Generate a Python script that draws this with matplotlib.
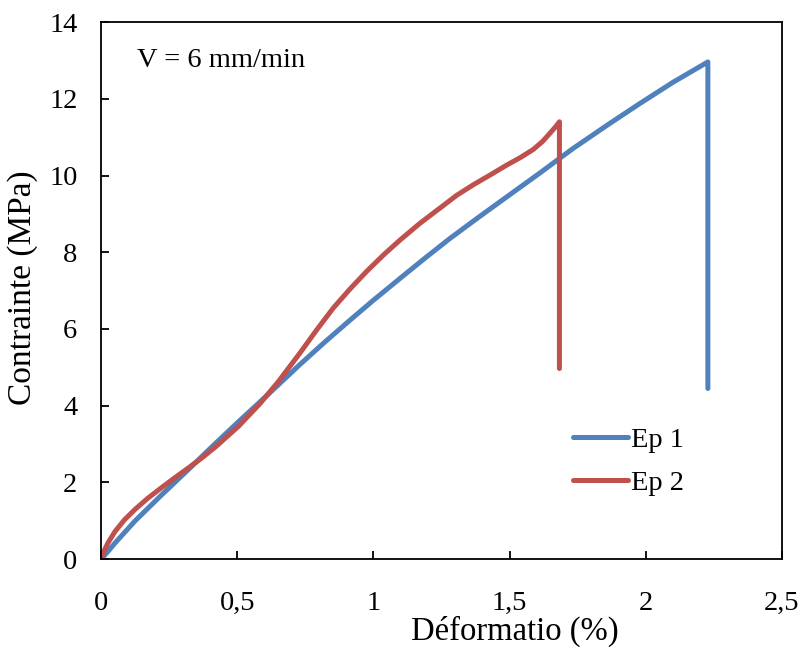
import numpy as np
import matplotlib
matplotlib.use("Agg")
import matplotlib.pyplot as plt

# Ep 1 (blue)
ep1_def = [0, 0.025, 0.051, 0.125, 0.223, 0.321, 0.41, 0.504, 0.614, 0.731, 0.82,
           0.914, 1.0, 1.098, 1.19, 1.281, 1.38, 1.489, 1.61, 1.734, 1.86, 1.979,
           2.10, 2.228, 2.228]
ep1_cont = [0, 0.2, 0.42, 1.0, 1.68, 2.34, 2.95, 3.58, 4.30, 5.08, 5.65,
            6.23, 6.75, 7.32, 7.85, 8.36, 8.88, 9.44, 10.06, 10.71, 11.32, 11.88,
            12.43, 12.96, 4.45]

# Ep 2 (red)
ep2_def = [0, 0.01, 0.025, 0.051, 0.085, 0.125, 0.17, 0.223, 0.27, 0.321, 0.37,
           0.419, 0.504, 0.584, 0.65, 0.731, 0.79, 0.853, 0.915, 0.975, 1.04,
           1.098, 1.17, 1.244, 1.305, 1.367, 1.43, 1.489, 1.54, 1.587, 1.62,
           1.648, 1.67, 1.683, 1.683]
ep2_cont = [0, 0.2, 0.42, 0.72, 1.02, 1.30, 1.58, 1.87, 2.12, 2.38, 2.64,
            2.92, 3.46, 4.06, 4.62, 5.38, 5.96, 6.55, 7.05, 7.50, 7.95,
            8.32, 8.75, 9.15, 9.48, 9.76, 10.02, 10.27, 10.47, 10.68, 10.88,
            11.10, 11.28, 11.40, 4.97]

xticks = [0, 0.5, 1, 1.5, 2, 2.5]
xticklabels = ["0", "0,5", "1", "1,5", "2", "2,5"]
yticks = [0, 2, 4, 6, 8, 10, 12, 14]

plt.rcParams['font.family'] = ['Liberation Serif', 'DejaVu Serif']

fig = plt.figure(figsize=(8.02, 6.48), dpi=100)
ax = fig.add_axes([0.126, 0.137, 0.849, 0.829])

ax.plot(ep1_def, ep1_cont, color='#4F81BD', lw=3.6, label='Ep 1',
        solid_capstyle='round', solid_joinstyle='round')
ax.plot(ep2_def, ep2_cont, color='#C0504D', lw=3.6, label='Ep 2',
        solid_capstyle='round', solid_joinstyle='round')

ax.set_xlim(0, 2.5)
ax.set_ylim(0, 14)
ax.set_xticks(xticks)
ax.set_xticklabels(xticklabels)
ax.set_yticks(yticks)
ax.tick_params(direction='in', length=6, width=1.3, labelsize=20.5)
ax.tick_params(axis='x', pad=23)
ax.tick_params(axis='y', pad=17)
for s in ax.spines.values():
    s.set_linewidth(1.3)

ax.set_xlabel('Déformatio (%)', fontsize=23.5)
ax.xaxis.set_label_coords(0.608, -0.106)
ax.set_ylabel('Contrainte (MPa)', fontsize=24)
ax.yaxis.set_label_coords(-0.092, 0.505)

ax.text(0.132, 13.0, 'V = 6 mm/min', fontsize=20.5, va='center', ha='left')

ax.legend(loc='center left', bbox_to_anchor=(0.693, 0.182), frameon=False,
          fontsize=20.5, handlelength=1.95, handletextpad=0.1, labelspacing=0.6,
          borderpad=0, borderaxespad=0)

fig.savefig('out.png', dpi=100)
